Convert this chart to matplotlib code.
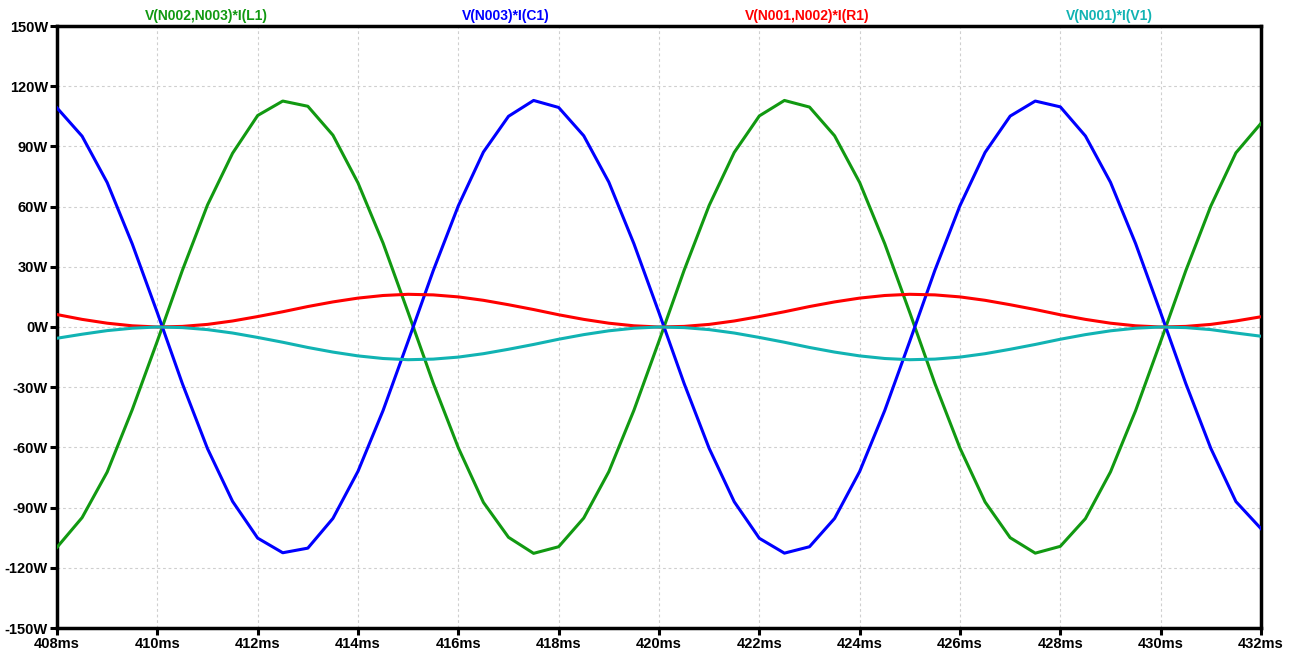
import numpy as np
import matplotlib
matplotlib.use("Agg")
from matplotlib import pyplot as plt
from matplotlib.ticker import FuncFormatter

# 时间轴, 单位 ms, 每 0.5ms 读一个点
t_ms = np.arange(408.0, 432.01, 0.5)

# V(N002,N003)*I(L1), 电感功率
p_l1 = [-109.8, -95.0, -72.3, -41.2, -7.0, 28.3, 60.8, 86.6, 105.4, 112.6,
        110.0, 95.6, 71.8, 41.8, 7.2, -28.0, -60.2, -87.4, -104.8, -112.8,
        -109.5, -95.2, -72.1, -41.5, -7.0, 28.2, 60.6, 87.0, 105.2, 112.9,
        109.6, 95.3, 72.0, 41.5, 7.1, -28.2, -60.4, -87.2, -105.0, -112.7,
        -109.3, -95.5, -72.2, -41.7, -7.2, 28.0, 60.3, 86.8, 101.5]
# V(N003)*I(C1), 电容功率
p_c1 = [109.2, 95.1, 72.0, 41.4, 7.1, -28.3, -60.6, -86.9, -105.2, -112.5,
        -110.2, -95.4, -71.9, -41.6, -7.0, 28.1, 60.4, 87.2, 105.0, 112.9,
        109.4, 95.3, 72.2, 41.5, 7.1, -28.1, -60.5, -87.1, -105.3, -112.7,
        -109.5, -95.4, -72.0, -41.6, -7.0, 28.3, 60.5, 87.0, 105.1, 112.6,
        109.7, 95.2, 72.1, 41.6, 7.1, -28.1, -60.5, -87.0, -100.5]
# V(N001,N002)*I(R1), 电阻功率
p_r1 = [6.2, 3.8, 1.9, 0.6, 0.0, 0.3, 1.3, 3.0, 5.2, 7.6,
        10.2, 12.5, 14.4, 15.7, 16.3, 16.0, 15.0, 13.3, 11.1, 8.7,
        6.1, 3.8, 1.9, 0.6, 0.0, 0.3, 1.3, 3.0, 5.2, 7.6,
        10.2, 12.5, 14.4, 15.7, 16.3, 16.0, 15.0, 13.3, 11.1, 8.7,
        6.1, 3.8, 1.9, 0.6, 0.0, 0.3, 1.3, 3.0, 5.1]
# V(N001)*I(V1), 电源功率
p_v1 = [-5.6, -3.6, -1.8, -0.6, 0.0, -0.3, -1.3, -3.0, -5.2, -7.6,
        -10.2, -12.5, -14.4, -15.7, -16.3, -16.0, -15.0, -13.3, -11.1, -8.7,
        -6.1, -3.8, -1.9, -0.6, 0.0, -0.3, -1.3, -3.0, -5.2, -7.6,
        -10.2, -12.5, -14.4, -15.7, -16.3, -16.0, -15.0, -13.3, -11.1, -8.7,
        -6.1, -3.8, -1.9, -0.6, 0.0, -0.3, -1.3, -3.0, -4.6]

names = ["V(N002,N003)*I(L1)", "V(N003)*I(C1)", "V(N001,N002)*I(R1)", "V(N001)*I(V1)"]
colors = ["#119911", "#0000ff", "#ff0000", "#11b3b3"]
label_x = [206, 506, 807, 1109]  # 顶部标签中心, 像素

plt.rcParams["font.family"] = ["Liberation Sans", "DejaVu Sans"]

W, H = 1293, 652
fig = plt.figure(figsize=(W / 100, H / 100), dpi=100)
ax = fig.add_axes([57 / W, 1 - 628 / H, (1261 - 57) / W, (628 - 26) / H])

for y, c in zip([p_l1, p_c1, p_r1, p_v1], colors):
    ax.plot(t_ms, y, color=c, lw=2.2, zorder=3)

ax.set_xlim(408, 432)
ax.set_ylim(-150, 150)
ax.set_xticks(np.arange(408, 433, 2))
ax.set_yticks(np.arange(-150, 151, 30))
ax.xaxis.set_major_formatter(FuncFormatter(lambda v, p: "{:.0f}ms".format(v)))
ax.yaxis.set_major_formatter(FuncFormatter(lambda v, p: "{:.0f}W".format(v)))
ax.grid(True, color="#cfcfcf", linestyle=(0, (2.5, 2.5)), lw=0.8)
ax.set_axisbelow(True)

for s in ax.spines.values():
    s.set_linewidth(2.5)
    s.set_color("black")
ax.tick_params(direction="out", length=5, width=2.2, pad=1.5, labelsize=10.5)
for lab in ax.get_xticklabels() + ax.get_yticklabels():
    lab.set_fontweight("bold")

for n, c, x in zip(names, colors, label_x):
    fig.text(x / W, 1 - 16 / H, n, color=c, ha="center", va="center",
             fontsize=10, fontweight="bold")

fig.savefig("out.png", dpi=100)
